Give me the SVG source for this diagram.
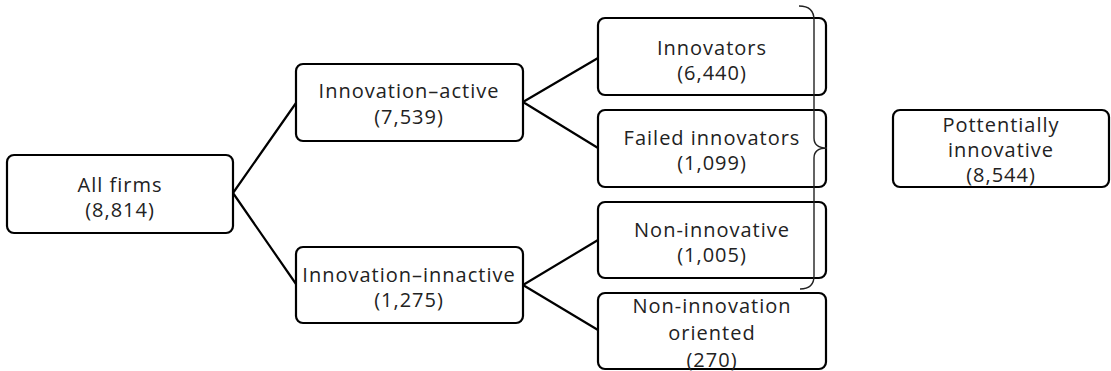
<svg xmlns="http://www.w3.org/2000/svg" width="1111" height="371" viewBox="0 0 1111 371">
<style>
.box{fill:#fff;stroke:#000;stroke-width:2.2}
.t{font-family:"Open Sans","DejaVu Sans",sans-serif;font-size:20px;letter-spacing:1px;fill:#222;text-anchor:middle}
.c{fill:none;stroke:#000;stroke-width:2.2}
.br{fill:none;stroke:#222;stroke-width:1.4}
</style>
<rect width="1111" height="371" fill="#fff"/>
<g id="all-firms">
<rect class="box" x="7" y="155" width="226" height="78" rx="7"/>
<text class="t" x="120" y="192">All firms</text>
<text class="t" x="120" y="217">(8,814)</text>
</g>
<g id="innovation-active">
<rect class="box" x="296" y="64" width="227" height="77" rx="7"/>
<text class="t" x="409" y="98">Innovation–active</text>
<text class="t" x="409" y="124">(7,539)</text>
</g>
<g id="innovation-innactive">
<rect class="box" x="296" y="247" width="227" height="76" rx="7"/>
<text class="t" x="409" y="282">Innovation–innactive</text>
<text class="t" x="409" y="307">(1,275)</text>
</g>
<g id="innovators">
<rect class="box" x="598" y="18" width="228" height="77" rx="7"/>
<text class="t" x="712" y="55">Innovators</text>
<text class="t" x="712" y="80">(6,440)</text>
</g>
<g id="failed-innovators">
<rect class="box" x="598" y="110" width="228" height="77" rx="7"/>
<text class="t" x="712" y="145">Failed innovators</text>
<text class="t" x="712" y="170">(1,099)</text>
</g>
<g id="non-innovative">
<rect class="box" x="598" y="202" width="228" height="76" rx="7"/>
<text class="t" x="712" y="237">Non-innovative</text>
<text class="t" x="712" y="262">(1,005)</text>
</g>
<g id="non-innovation-oriented">
<rect class="box" x="598" y="293" width="228" height="76" rx="7"/>
<text class="t" x="712" y="313">Non-innovation</text>
<text class="t" x="712" y="340">oriented</text>
<text class="t" x="712" y="367">(270)</text>
</g>
<g id="potentially-innovative">
<rect class="box" x="893" y="110" width="216" height="77" rx="7"/>
<text class="t" x="1001" y="132">Pottentially</text>
<text class="t" x="1001" y="157">innovative</text>
<text class="t" x="1001" y="182">(8,544)</text>
</g>
<g id="connectors">
<path class="c" d="M233,193 L296,103 M233,193 L296,284"/>
<path class="c" d="M523,102 L598,58 M523,102 L598,148"/>
<path class="c" d="M523,285 L598,240 M523,285 L598,330"/>
<path class="br" d="M799,6 Q814,6 814,20 L814,138 Q814,148 827,148 Q814,148 814,158 L814,276 Q814,289 800,289"/>
</g>
</svg>
